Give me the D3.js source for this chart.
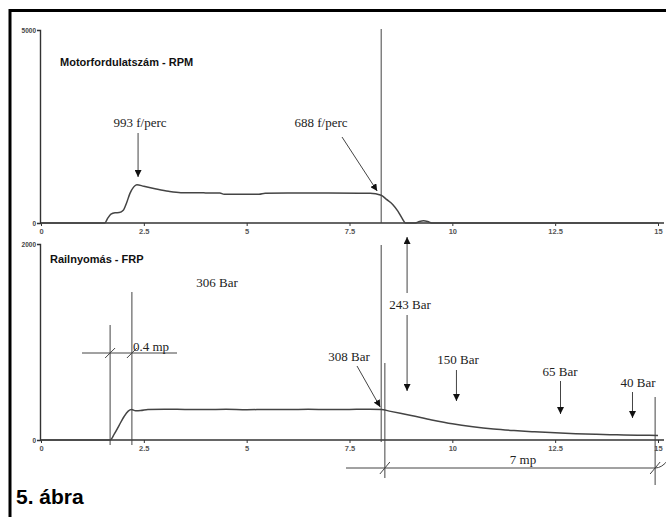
<!DOCTYPE html>
<html><head><meta charset="utf-8">
<script src="https://cdn.jsdelivr.net/npm/d3@7"></script>
<style>
html,body{margin:0;padding:0;background:#fff;}
svg{display:block;}
</style></head>
<body>
<script>
// ---- data ----
const xTicks = [0, 2.5, 5, 7.5, 10, 12.5, 15];
const xTickLabels = ["0", "2.5", "5", "7.5", "10", "12.5", "15"];
const rpmTicks = [0, 5000];
const frpTicks = [0, 2000];

// Motorfordulatszám (RPM) – time [s], value [f/perc]
const rpmTime  = [0, 1.55, 1.62, 1.7, 1.8, 1.9, 2.0, 2.08, 2.16, 2.25, 2.33, 2.5, 2.8, 3.1, 3.4, 4.0, 4.35, 4.45, 5.3, 5.45, 6.0, 7.0, 8.0, 8.27, 8.4, 8.55, 8.68, 8.78, 8.86, 9.1, 9.2, 9.3, 9.4, 9.5, 15];
const rpmValue = [0, 0, 120, 230, 265, 270, 330, 520, 760, 930, 993, 950, 880, 820, 785, 780, 775, 745, 745, 770, 775, 775, 770, 720, 610, 480, 300, 120, 0, 0, 40, 60, 40, 0, 0];

// Railnyomás (FRP) – time [s], value [bar]
const frpTime  = [0, 1.68, 1.78, 1.9, 2.02, 2.12, 2.2, 2.3, 2.42, 2.6, 3.0, 3.5, 4.0, 4.5, 5.0, 5.5, 6.0, 6.5, 7.0, 7.5, 8.0, 8.27, 8.5, 9.0, 9.5, 10.0, 10.5, 11.0, 11.5, 12.0, 12.5, 13.0, 13.5, 14.0, 14.5, 15.0];
const frpValue = [0, 0, 60, 150, 240, 295, 312, 298, 300, 312, 315, 312, 310, 314, 309, 312, 310, 313, 310, 312, 314, 312, 292, 250, 205, 165, 135, 112, 96, 84, 74, 65, 58, 53, 49, 46];

// annotations
const rpmNotes = ["993 f/perc", "688 f/perc"];
const frpNotes = ["306 Bar", "308 Bar", "243 Bar", "150 Bar", "65 Bar", "40 Bar"];
const dimNotes = ["0.4 mp", "7 mp"];
const titles = ["Motorfordulatszám - RPM", "Railnyomás - FRP"];
const caption = "5. ábra";

// ---- drawing ----
const W = 666, H = 517;
const svg = d3.select("body").append("svg").attr("width", W).attr("height", H);

const defs = svg.append("defs");
defs.append("marker").attr("id", "ah")
  .attr("viewBox", "0 0 10 10").attr("refX", 10).attr("refY", 5)
  .attr("markerWidth", 7).attr("markerHeight", 7)
  .attr("markerUnits", "userSpaceOnUse").attr("orient", "auto")
  .append("path").attr("d", "M0,0 L10,5 L0,10 Z").attr("fill", "#111");

// frame
svg.append("path").attr("d", "M10,520 L10,10.5 L670,10.5")
  .attr("fill", "none").attr("stroke", "#000").attr("stroke-width", 3);

const x = d3.scaleLinear().domain([0, 15]).range([41, 658]);
const y1 = d3.scaleLinear().domain([0, 5000]).range([223, 30]);
const y2 = d3.scaleLinear().domain([0, 2000]).range([440, 244]);

const axisCol = "#333";
function drawXAxis(yPos) {
  const g = svg.append("g").attr("transform", `translate(0,${yPos})`)
    .call(d3.axisBottom(x).tickValues(xTicks).tickFormat((d, i) => xTickLabels[i]).tickSize(3).tickPadding(3));
  g.select(".domain").remove();
  g.append("line").attr("x1", 40).attr("x2", 664).attr("stroke", axisCol).attr("stroke-width", 1.6);
  g.selectAll(".tick line").attr("stroke", axisCol).attr("stroke-width", 1);
  g.selectAll(".tick text").attr("fill", "#555").attr("font-family", "Liberation Sans, Arial, sans-serif")
    .attr("font-size", 7.5).attr("font-weight", "bold");
}
function drawYAxis(scale, ticks) {
  const g = svg.append("g").attr("transform", "translate(40,0)")
    .call(d3.axisLeft(scale).tickValues(ticks).tickSize(3).tickPadding(1).tickFormat(d3.format("d")));
  g.select(".domain").attr("stroke", axisCol).attr("stroke-width", 1.4);
  g.selectAll(".tick line").attr("stroke", axisCol);
  g.selectAll(".tick text").attr("fill", "#444").attr("font-family", "Liberation Sans, Arial, sans-serif")
    .attr("font-size", 6.5).attr("font-weight", "bold");
}
drawYAxis(y1, rpmTicks);
drawXAxis(223);
drawYAxis(y2, frpTicks);
drawXAxis(440);

// curves
const rpmData = rpmTime.map((t, i) => [t, rpmValue[i]]);
const frpData = frpTime.map((t, i) => [t, frpValue[i]]);
svg.append("path").datum(rpmData)
  .attr("d", d3.line().x(d => x(d[0])).y(d => y1(d[1])).curve(d3.curveMonotoneX))
  .attr("fill", "none").attr("stroke", "#444").attr("stroke-width", 1.5);
svg.append("path").datum(frpData)
  .attr("d", d3.line().x(d => x(d[0])).y(d => y2(d[1])).curve(d3.curveMonotoneX))
  .attr("fill", "none").attr("stroke", "#444").attr("stroke-width", 1.5);

// titles
const sans = "Liberation Sans, Arial, sans-serif";
const serif = "Liberation Serif, Times New Roman, serif";
svg.append("text").attr("x", 60).attr("y", 66).text(titles[0])
  .attr("font-family", sans).attr("font-weight", "bold").attr("font-size", 11).attr("fill", "#111");
svg.append("text").attr("x", 50).attr("y", 263).text(titles[1])
  .attr("font-family", sans).attr("font-weight", "bold").attr("font-size", 11).attr("fill", "#111");
svg.append("text").attr("x", 16).attr("y", 504).text(caption)
  .attr("font-family", sans).attr("font-weight", "bold").attr("font-size", 21).attr("fill", "#000");

// helper lines
const lc = "#444";
function line(x1, y1p, x2, y2p, arrow, w) {
  const l = svg.append("line").attr("x1", x1).attr("y1", y1p).attr("x2", x2).attr("y2", y2p)
    .attr("stroke", lc).attr("stroke-width", w || 1);
  if (arrow) l.attr("marker-end", "url(#ah)");
  return l;
}
function label(txt, cx, by, anchor) {
  svg.append("text").attr("x", cx).attr("y", by).text(txt)
    .attr("text-anchor", anchor || "middle").attr("font-family", serif)
    .attr("font-size", 13).attr("fill", "#222");
}

// vertical marker lines
const tStop = 8.27;
line(x(tStop), 29, x(tStop), 223);
line(x(tStop), 245, x(tStop), 442);
line(x(8.36), 363, x(8.36), 478);
line(x(14.93), 397, x(14.93), 485);
line(x(1.68), 325, x(1.68), 445);
line(x(2.21), 292, x(2.21), 445);

// RPM annotations
label(rpmNotes[0], 140, 127);
line(x(2.36), 133, x(2.36), 177, true);
label(rpmNotes[1], 321, 127);
line(342, 137, x(tStop) - 4, 191, true);

// FRP annotations
label(frpNotes[0], 217, 287);
label(frpNotes[1], 349, 361);
line(357, 366, x(tStop) - 1, 407, true);
label(frpNotes[2], 410, 309);
line(x(8.9), 293, x(8.9), 237, true);
line(x(8.9), 315, x(8.9), 391, true);
label(frpNotes[3], 458, 364);
line(x(10.1), 370, x(10.1), 401, true);
label(frpNotes[4], 560, 376);
line(x(12.63), 381, x(12.63), 414, true);
label(frpNotes[5], 638, 387);
line(x(14.38), 392, x(14.38), 418, true);

// dimension lines
line(82, 353, 177, 353);
line(x(1.68) - 5, 358, x(1.68) + 5, 348);
line(x(2.21) - 5, 358, x(2.21) + 5, 348);
label(dimNotes[0], 133, 351, "start");

svg.append("path").attr("d", `M346,468 L${x(14.93)},468 Q662,468 668,460`)
  .attr("fill", "none").attr("stroke", lc).attr("stroke-width", 1);
line(x(8.36) - 5, 474, x(8.36) + 5, 462);
line(x(14.93) - 5, 474, x(14.93) + 5, 462);
label(dimNotes[1], 523, 464);
</script>
</body></html>
